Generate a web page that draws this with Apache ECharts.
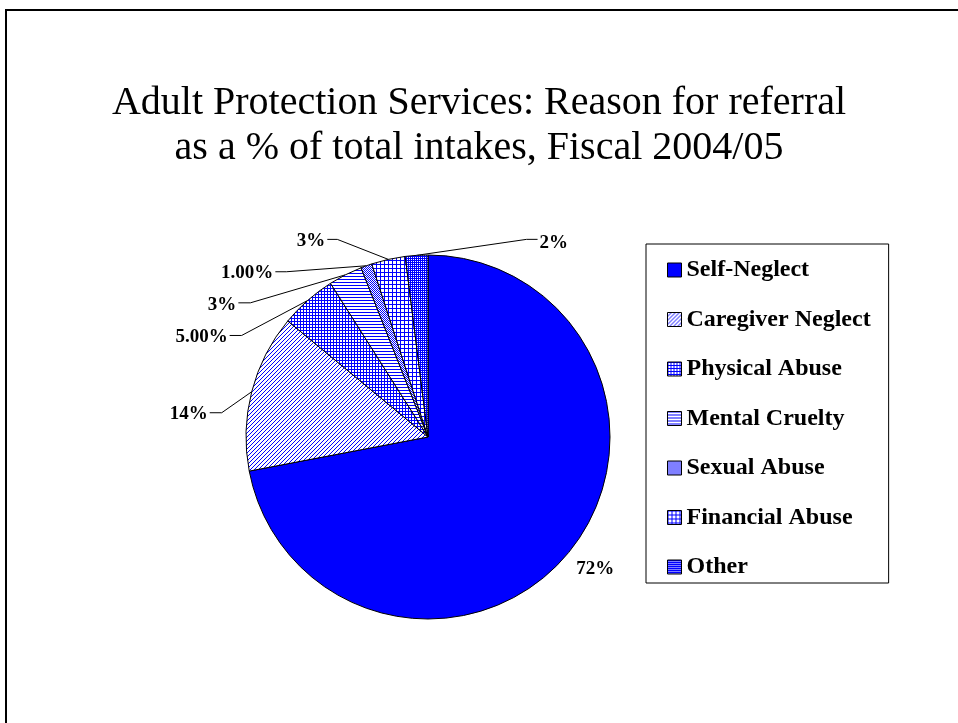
<!DOCTYPE html>
<html>
<head>
<meta charset="utf-8">
<script src="https://cdn.jsdelivr.net/npm/echarts@6/dist/echarts.min.js"></script>
<style>
html,body{margin:0;padding:0;background:#fff;}
#chart{width:958px;height:723px;}
</style>
</head>
<body>
<div id="chart"></div>
<script>
// ---- data ----
const categories = ['Self-Neglect', 'Caregiver Neglect', 'Physical Abuse', 'Mental Cruelty', 'Sexual Abuse', 'Financial Abuse', 'Other'];
const values = [72, 14, 5, 3, 1, 3, 2];
const labelTexts = ['72%', '14%', '5.00%', '3%', '1.00%', '3%', '2%'];
const titleText = 'Adult Protection Services: Reason for referral\nas a % of total intakes, Fiscal 2004/05';

// ---- styles ----
const SERIF = "'Liberation Serif', 'Times New Roman', serif";
const BLUE = '#0000FF';

function makePattern(size, isBlue) {
  const c = document.createElement('canvas');
  c.width = size; c.height = size;
  const ctx = c.getContext('2d');
  ctx.fillStyle = '#FFFFFF';
  ctx.fillRect(0, 0, size, size);
  ctx.fillStyle = BLUE;
  for (let y = 0; y < size; y++) {
    for (let x = 0; x < size; x++) {
      if (isBlue(x, y)) ctx.fillRect(x, y, 1, 1);
    }
  }
  return { image: c, repeat: 'repeat' };
}

const fills = [
  BLUE,
  makePattern(4, (x, y) => (x + y) % 4 === 3),               // diagonal
  makePattern(3, (x, y) => x % 3 === 0 || y % 3 === 0),       // grid
  makePattern(3, (x, y) => y % 3 === 0),                      // horizontal
  makePattern(2, (x, y) => (x + y) % 2 === 0),                // fine check
  makePattern(4, (x, y) => x % 4 === 0 || y % 4 === 0),       // large grid
  makePattern(2, (x, y) => x % 2 === 0 || y % 2 === 0)        // dense grid
];

// label leader geometry: elbow offset from slice edge point, horizontal run
const leader = [
  { dx: 27, dy: 16, run: 0, hide: true, ty: 0 },
  { dx: -30, dy: 21, run: -12, ty: 1 },
  { dx: -66, dy: 35, run: -12, ty: 2 },
  { dx: -95, dy: 28, run: -12, ty: 2 },
  { dx: -80, dy: 6, run: -11, ty: 1 },
  { dx: -51, dy: -20, run: -10, ty: 2 },
  { dx: 110, dy: -16, run: 11, ty: 4 }
];

const seriesData = categories.map((name, i) => ({
  name: name,
  value: values[i],
  itemStyle: { color: fills[i] },
  labelLine: { show: !leader[i].hide }
}));

const chart = echarts.init(document.getElementById('chart'), null, { renderer: 'canvas' });
chart.setOption({
  animation: false,
  backgroundColor: '#FFFFFF',
  title: {
    text: titleText,
    left: 'center',
    top: 76,
    textStyle: { fontFamily: SERIF, fontSize: 40, fontWeight: 'normal', color: '#000', lineHeight: 45 }
  },
  graphic: [{
    type: 'rect',
    shape: { x: 6, y: 10, width: 1000, height: 800 },
    style: { fill: 'none', stroke: '#000', lineWidth: 2 },
    silent: true
  }],
  legend: {
    orient: 'vertical',
    left: 646,
    top: 244,
    padding: [14, 18, 4, 21],
    itemGap: 25.5,
    itemWidth: 14,
    itemHeight: 14,
    borderColor: '#000',
    borderWidth: 1,
    icon: 'rect',
    data: categories,
    textStyle: { fontFamily: SERIF, fontSize: 24, fontWeight: 'bold', color: '#000', lineHeight: 24 },
    itemStyle: { borderColor: '#000', borderWidth: 1 }
  },
  series: [{
    type: 'pie',
    center: [428, 437],
    radius: 182,
    startAngle: 90,
    clockwise: true,
    avoidLabelOverlap: false,
    itemStyle: { borderColor: '#000', borderWidth: 1 },
    label: {
      show: true,
      position: 'outside',
      formatter: (p) => labelTexts[p.dataIndex],
      fontFamily: SERIF,
      fontSize: 19,
      fontWeight: 'bold',
      color: '#000'
    },
    labelLine: { show: true, length: 20, length2: 10, smooth: false, lineStyle: { color: '#000', width: 1 } },
    emphasis: { disabled: true },
    labelLayout: function (params) {
      const i = params.dataIndex;
      const L = leader[i];
      const p0 = params.labelLinePoints ? params.labelLinePoints[0] : [0, 0];
      const p1 = [p0[0] + L.dx, p0[1] + L.dy];
      const p2 = [p1[0] + L.run, p1[1]];
      if (L.hide) {
        return { x: p1[0], y: p1[1], align: 'center', verticalAlign: 'middle' };
      }
      return {
        x: p2[0] + (L.run < 0 ? -2 : 2),
        y: p2[1] + L.ty,
        align: L.run < 0 ? 'right' : 'left',
        verticalAlign: 'middle',
        labelLinePoints: [p0, p1, p2]
      };
    },
    data: seriesData
  }]
});
</script>
</body>
</html>
